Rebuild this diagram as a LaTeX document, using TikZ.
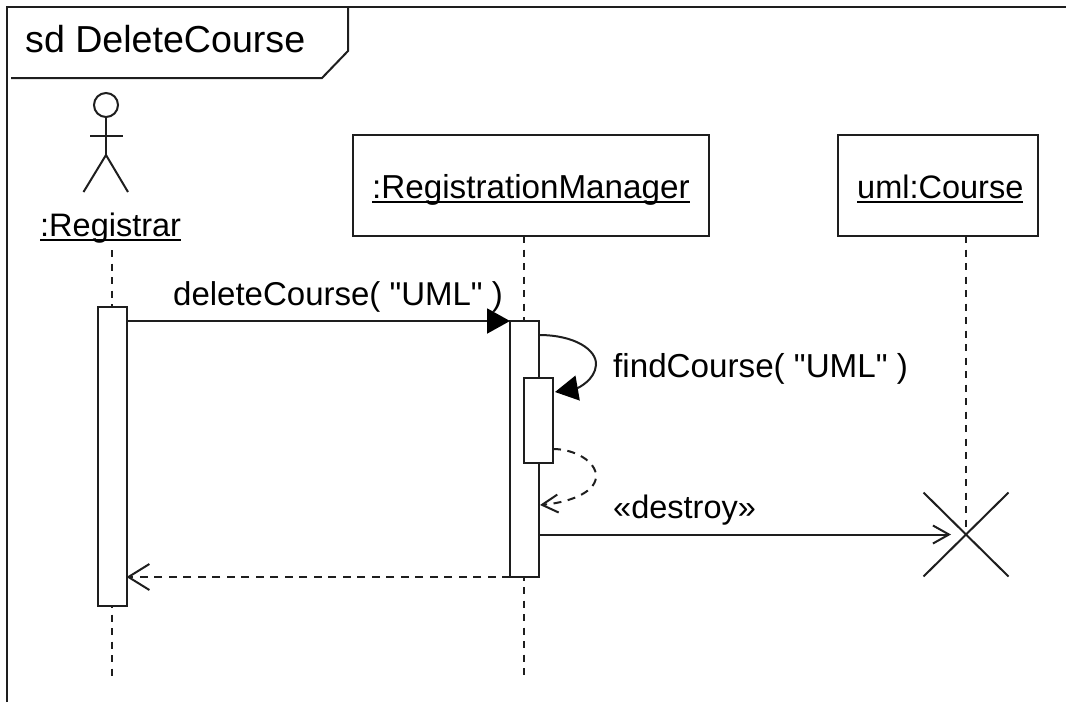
\documentclass[tikz,border=0pt]{standalone}
\usepackage{fontspec}
\setmainfont[Ligatures=TeXOff]{Liberation Sans}
\usetikzlibrary{arrows.meta,shapes.misc,calc}
\definecolor{ink}{HTML}{1E1E1E}
\newcommand{\ulbl}[1]{\setbox0\hbox{#1}\rlap{\rule[-5pt]{\wd0}{1.7pt}}\box0}
\tikzset{
  ln/.style={draw=ink,line width=2pt},
  dsh/.style={ln,dash pattern=on 8pt off 6.5pt},
  lifeline/.style={ln,dash pattern=on 7pt off 6.5pt},
  lbl/.style={inner sep=0pt,anchor=base west,text=black,font=\fontsize{32.5pt}{36pt}\selectfont},
  lblw/.style={lbl,font=\fontsize{33.2pt}{36pt}\selectfont},
  lblm/.style={lbl,font=\fontsize{33pt}{36pt}\selectfont},
  title/.style={lbl,font=\fontsize{37.6pt}{42pt}\selectfont},
  objbox/.style={ln,fill=white,inner sep=0pt,outer sep=0pt,minimum height=101pt,anchor=north west},
  act/.style={ln,fill=white,inner sep=0pt,outer sep=0pt,anchor=north west},
  solidtip/.style={-{Triangle[length=23pt,width=25pt,black]}},
  opentip/.style={-{Straight Barb[length=16pt,width=18pt,line width=2pt]}},
  widetip/.style={-{Straight Barb[length=21pt,width=26pt,line width=2pt]}},
}
\begin{document}
\begin{tikzpicture}[x=1pt,y=-1pt]
\useasboundingbox (0,0) rectangle (1066,702);
% frame
\coordinate (fBL) at (7,702);
\coordinate (fTL) at (7,7);
\coordinate (fTR) at (1066,7);
\coordinate (tabA) at (348,7);
\coordinate (tabB) at (348,51);
\coordinate (tabC) at (322,78);
\coordinate (tabD) at (11,78);
\draw[ln] (fBL) -- (fTL) -- (fTR);
\draw[ln] (tabA) -- (tabB) -- (tabC) -- (tabD);
\node[title] (frameTitle) at (25,52) {sd DeleteCourse};
% actor
\node[ln,circle,minimum size=24pt,inner sep=0pt,outer sep=0pt] (head) at (106,105) {};
\coordinate (hip) at (106,155);
\coordinate (armL) at (90,136);
\coordinate (armR) at (123,136);
\coordinate (legL) at (83.5,192);
\coordinate (legR) at (128,192);
\draw[ln] (head.south) -- (hip);
\draw[ln] (armL) -- (armR);
\draw[ln] (legL) -- (hip) -- (legR);
\node[lbl] (registrar) at (40,236) {\ulbl{:Registrar}};
% object boxes
\node[objbox,minimum width=356pt] (rmBox) at (353,135) {};
\node[lblw] (rmText) at (372,198) {\ulbl{:RegistrationManager}};
\node[objbox,minimum width=200pt] (courseBox) at (838,135) {};
\node[lbl] (courseText) at (857,198) {\ulbl{uml:Course}};
% lifeline ends
\coordinate (regTop) at (112,250);
\coordinate (regBot) at (112,678);
\coordinate (rmBot) at (524,678);
\node[draw=ink,line width=2pt,cross out,minimum width=85pt,minimum height=84pt,inner sep=0pt,outer sep=0pt] (destroyX) at (966,534.5) {};
\draw[lifeline] (regTop) -- (regBot);
\draw[lifeline] (rmBox.south -| rmBot) -- (rmBot);
\draw[lifeline] (courseBox.south -| destroyX) -- (destroyX.center);
% activations
\node[act,minimum width=28.5pt,minimum height=299pt] (actReg) at (98,306.5) {};
\node[act,minimum width=29pt,minimum height=256pt] (actRM) at (510,321) {};
\node[act,minimum width=29pt,minimum height=85pt] (actSelf) at (524,378) {};
% messages
\draw[ln,solidtip] (actReg.east |- actRM.north) -- (actRM.north west);
\node[lblm] (m1) at (173,305) {deleteCourse( "UML" )};
\coordinate (s1) at ($(actRM.north east)+(0,14)$);
\coordinate (s2) at ($(actSelf.north east)+(2,14)$);
\draw[ln,solidtip] (s1) .. controls (575,335) and (597,350) .. (596,365) .. controls (595,380) and (578,388) .. (s2);
\node[lblw] (m2) at (613,377) {findCourse( "UML" )};
\coordinate (r1) at ($(actSelf.south east)+(0,-14)$);
\coordinate (r2) at ($(actRM.east)+(1,56)$);
\draw[dsh,opentip] (r1) .. controls (575,449) and (597,462) .. (596,477) .. controls (595,494) and (565,503) .. (r2);
\node[lbl] (m3) at (613,518) {«destroy»};
\draw[ln,opentip,shorten >=15pt] (actRM.east |- destroyX) -- (destroyX.center);
\draw[dsh,widetip] (actRM.south west) -- (actReg.east |- actRM.south);
\end{tikzpicture}
\end{document}
